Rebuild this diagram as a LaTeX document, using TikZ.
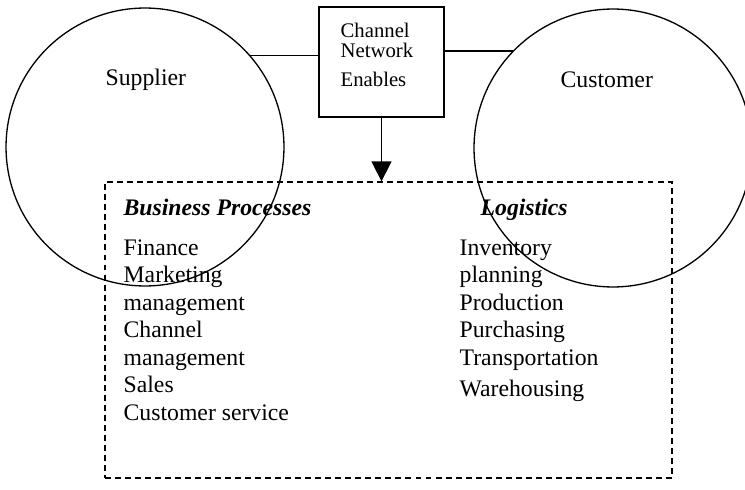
\documentclass[tikz,border=0pt]{standalone}
\usepackage{fontspec}
\setmainfont{Liberation Serif}
\usetikzlibrary{calc,arrows.meta}

\tikzset{
    party/.style={circle, draw=black, minimum size=5.56cm, inner sep=0pt},
    item/.style={anchor=base west, inner sep=0pt, font=\fontsize{13.5}{15.6}\selectfont},
    heading/.style={item, font=\fontsize{13.5}{15.6}\selectfont\bfseries\itshape},
    boxtext/.style={anchor=base west, inner sep=0pt, font=\fontsize{11.8}{13}\selectfont}
}

\begin{document}
\begin{tikzpicture}[x=0.02cm, y=-0.02cm, line width=0.75pt]
    \useasboundingbox (0,0) rectangle (745,490);

    \node[party] (supC) at (145,147) {};
    \node[party] (cusC) at (613,148) {};
    \node[item] (sup) at (105,86) {Supplier};
    \node[item] (cus) at (560,88) {Customer};

    \node[draw=black, fill=white, minimum width=2.5cm, minimum height=2.2cm, inner sep=0pt] (chan) at (381.5,62) {};
    \node[boxtext] (chan1) at (340,37) {Channel};
    \node[boxtext] (chan2) at ($(chan1.base west) + (0,20)$) {Network};
    \node[boxtext] (chan3) at ($(chan2.base west) + (0,30)$) {Enables};

    \node[draw=black, dash pattern=on 3.4pt off 2.3pt, minimum width=11.34cm, minimum height=5.92cm, inner sep=0pt] (proc) at (388.5,330) {};

    \node[heading] (bp) at (123,215) {Business Processes};
    \node[heading] (log) at (480,215) {Logistics};

    \node[item] (fin) at (123,255) {Finance};
    \node[item] (mkt) at ($(fin.base west) + (0,27.5)$) {Marketing};
    \node[item] (mkt2) at ($(mkt.base west) + (0,27.5)$) {management};
    \node[item] (chm) at ($(mkt2.base west) + (0,27.5)$) {Channel};
    \node[item] (chm2) at ($(chm.base west) + (0,27.5)$) {management};
    \node[item] (sal) at ($(chm2.base west) + (0,27.5)$) {Sales};
    \node[item] (csv) at ($(sal.base west) + (0,27.5)$) {Customer service};

    \node[item] (inv) at (459,255) {Inventory};
    \node[item] (inv2) at ($(inv.base west) + (0,27.5)$) {planning};
    \node[item] (prd) at ($(inv2.base west) + (0,27.5)$) {Production};
    \node[item] (pur) at ($(prd.base west) + (0,27.5)$) {Purchasing};
    \node[item] (trn) at ($(pur.base west) + (0,27.5)$) {Transportation};
    \node[item] (wh) at ($(trn.base west) + (0,31)$) {Warehousing};

    \draw[-] (supC.41) -- (supC.41 -| chan.west);
    \draw[-] (cusC.136) -- (cusC.136 -| chan.east);
    \draw[-{Triangle[length=0.4cm, width=0.4cm]}] (chan.south) -- (chan.south |- proc.north);

\end{tikzpicture}
\end{document}
